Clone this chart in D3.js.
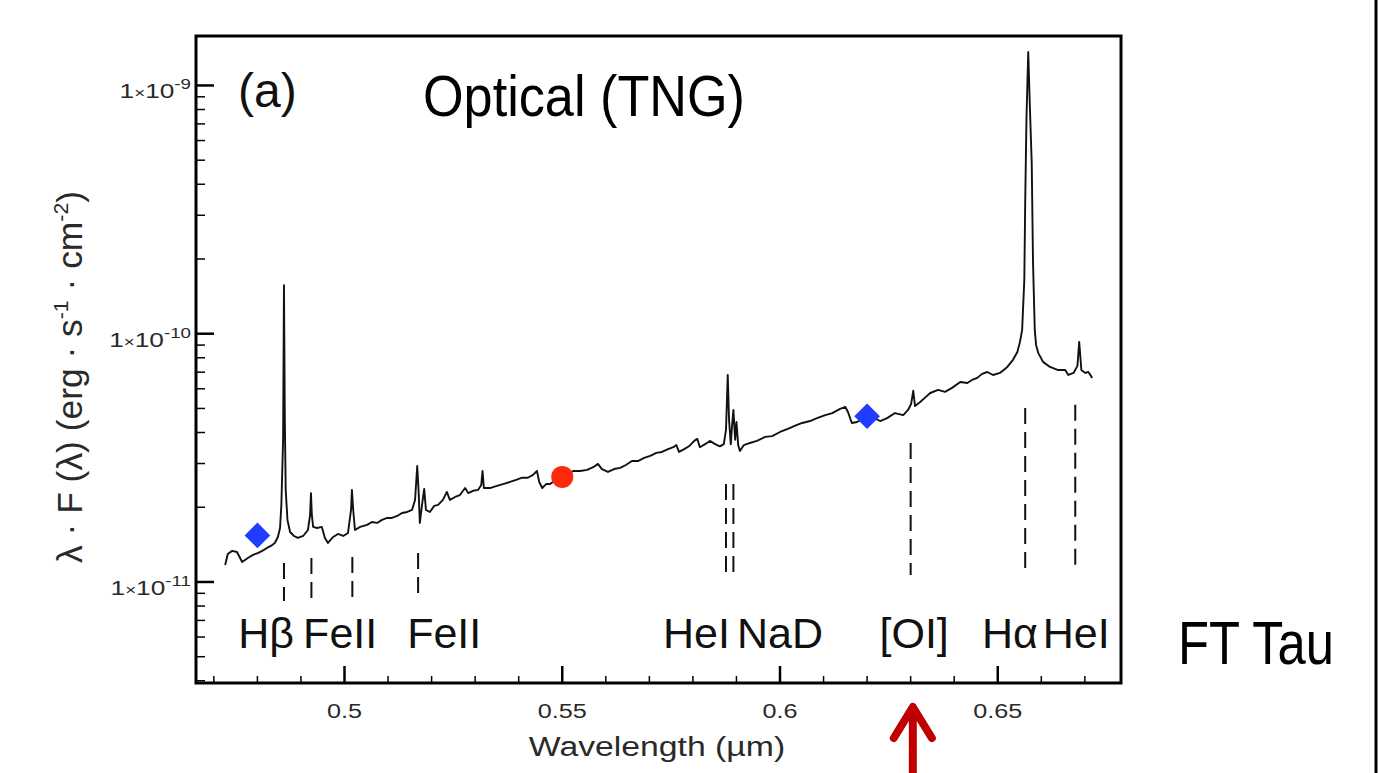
<!DOCTYPE html>
<html>
<head>
<meta charset="utf-8">
<script src="https://cdn.jsdelivr.net/npm/d3@7/dist/d3.min.js"></script>
<style>
  html, body { margin: 0; padding: 0; background: #fff; }
  svg { display: block; }
</style>
</head>
<body>
<svg id="chart" width="1379" height="773"></svg>
<script>
// ---------- DATA ----------
const wavelength = [
  0.4726,0.4732,0.4742,0.4753,0.4765,0.4778,0.4790,0.4802,0.4811,0.4822,0.4831,0.4840,0.4847,0.4852,0.4855,0.4859,0.4861,0.4863,0.4865,0.4869,
  0.4875,0.4884,0.4893,0.4905,0.4916,0.4921,0.4923,0.4925,0.4928,0.4937,0.4948,0.4955,0.4962,0.4974,0.4985,0.4997,0.5008,0.5015,0.5017,0.5020,
  0.5024,0.5036,0.5052,0.5063,0.5075,0.5086,0.5098,0.5109,0.5121,0.5132,0.5144,0.5155,0.5162,0.5167,0.5170,0.5173,0.5178,0.5183,0.5187,0.5196,
  0.5206,0.5215,0.5226,0.5235,0.5242,0.5254,0.5265,0.5277,0.5284,0.5295,0.5307,0.5314,0.5317,0.5320,0.5334,0.5350,0.5364,0.5380,0.5394,0.5408,
  0.5421,0.5433,0.5442,0.5447,0.5454,0.5463,0.5472,0.5486,0.5500,0.5513,0.5525,0.5541,0.5557,0.5571,0.5582,0.5591,0.5605,0.5619,0.5633,0.5646,
  0.5660,0.5674,0.5688,0.5702,0.5716,0.5729,0.5743,0.5755,0.5762,0.5768,0.5780,0.5791,0.5803,0.5810,0.5816,0.5828,0.5839,0.5851,0.5862,0.5871,
  0.5876,0.5880,0.5883,0.5887,0.5890,0.5893,0.5897,0.5900,0.5904,0.5908,0.5917,0.5931,0.5947,0.5966,0.5982,0.6000,0.6018,0.6035,0.6051,0.6069,
  0.6085,0.6104,0.6120,0.6138,0.6150,0.6156,0.6165,0.6177,0.6189,0.6202,0.6216,0.6230,0.6246,0.6264,0.6283,0.6294,0.6301,0.6306,0.6310,0.6322,
  0.6333,0.6345,0.6363,0.6379,0.6395,0.6414,0.6430,0.6441,0.6453,0.6464,0.6476,0.6489,0.6505,0.6522,0.6535,0.6545,0.6551,0.6556,0.6561,0.6563,
  0.6566,0.6570,0.6574,0.6578,0.6581,0.6585,0.6588,0.6593,0.6604,0.6620,0.6639,0.6655,0.6662,0.6674,0.6683,0.6687,0.6692,0.6701,0.6708,0.6717
];
const flux = [
  1.17e-11,1.297e-11,1.334e-11,1.321e-11,1.204e-11,1.249e-11,1.285e-11,1.309e-11,1.334e-11,1.371e-11,1.397e-11,1.436e-11,1.518e-11,1.65e-11,2.044e-11,3.74e-11,15.7e-11,4.49e-11,2.35e-11,1.778e-11,
  1.59e-11,1.532e-11,1.504e-11,1.532e-11,1.619e-11,1.864e-11,2.28e-11,1.864e-11,1.666e-11,1.65e-11,1.666e-11,1.504e-11,1.436e-11,1.518e-11,1.561e-11,1.532e-11,1.576e-11,1.95e-11,2.35e-11,1.95e-11,
  1.619e-11,1.666e-11,1.698e-11,1.745e-11,1.729e-11,1.778e-11,1.811e-11,1.811e-11,1.845e-11,1.897e-11,1.914e-11,1.95e-11,2.14e-11,2.93e-11,2.35e-11,1.729e-11,2.044e-11,2.37e-11,1.95e-11,1.914e-11,
  2.025e-11,2.044e-11,2.14e-11,2.305e-11,2.14e-11,2.2e-11,2.24e-11,2.39e-11,2.28e-11,2.33e-11,2.35e-11,2.46e-11,2.8e-11,2.39e-11,2.39e-11,2.44e-11,2.48e-11,2.529e-11,2.58e-11,2.63e-11,
  2.63e-11,2.7e-11,2.8e-11,2.529e-11,2.39e-11,2.48e-11,2.48e-11,2.58e-11,2.65e-11,2.72e-11,2.8e-11,2.8e-11,2.83e-11,2.9e-11,2.99e-11,2.85e-11,2.775e-11,2.85e-11,2.88e-11,2.96e-11,
  3.07e-11,3.07e-11,3.16e-11,3.22e-11,3.31e-11,3.34e-11,3.43e-11,3.49e-11,3.56e-11,3.34e-11,3.43e-11,3.52e-11,3.7e-11,3.77e-11,3.49e-11,3.59e-11,3.7e-11,3.59e-11,3.52e-11,3.59e-11,
  4.1e-11,6.82e-11,4.49e-11,3.59e-11,4.28e-11,4.93e-11,3.74e-11,4.41e-11,3.56e-11,3.37e-11,3.56e-11,3.63e-11,3.7e-11,3.84e-11,3.87e-11,4.02e-11,4.14e-11,4.26e-11,4.37e-11,4.45e-11,
  4.57e-11,4.7e-11,4.79e-11,4.98e-11,5.07e-11,4.84e-11,4.37e-11,4.41e-11,4.53e-11,4.62e-11,4.57e-11,4.45e-11,4.57e-11,4.79e-11,4.7e-11,4.93e-11,5.21e-11,5.89e-11,5.11e-11,5.31e-11,
  5.53e-11,5.77e-11,5.94e-11,5.83e-11,6.05e-11,6.39e-11,6.33e-11,6.51e-11,6.64e-11,6.89e-11,7.01e-11,6.82e-11,6.95e-11,7.35e-11,7.85e-11,8.44e-11,9.27e-11,10.36e-11,16.5e-11,33.6e-11,
  74.7e-11,136.5e-11,79.7e-11,48.7e-11,19.3e-11,10.36e-11,9.01e-11,8.37e-11,7.7e-11,7.35e-11,7.14e-11,7.14e-11,6.82e-11,6.95e-11,7.42e-11,9.27e-11,7.14e-11,6.95e-11,7.01e-11,6.64e-11
];

// photometric points
const photDiamondLam = [0.48, 0.62];
const photDiamondFlux = [1.54e-11, 4.65e-11];
const photCircleLam = [0.55];
const photCircleFlux = [2.65e-11];

// emission line identifications (dashed markers)
const lineLam  = [0.4861, 0.4924, 0.5018, 0.5169, 0.5876, 0.5893, 0.6300, 0.6563, 0.6678];
const lineTop  = [1.193e-11, 1.249e-11, 1.261e-11, 1.309e-11, 2.48e-11, 2.48e-11, 3.63e-11, 5.02e-11, 5.17e-11];
const lineBot  = [0.838e-11, 0.838e-11, 0.870e-11, 0.878e-11, 1.038e-11, 1.019e-11, 1.067e-11, 1.097e-11, 1.139e-11];

// line labels (text, centre wavelength)
const labelText = ["Hβ", "FeII", "FeII", "HeI", "NaD", "[OI]", "Hα", "HeI"];
const labelLam  = [0.4820, 0.4990, 0.5229, 0.5808, 0.6000, 0.6308, 0.6528, 0.6680];

// axis ticks
const xMajorTicks = [0.5, 0.55, 0.6, 0.65];
const xTickLabels = ["0.5", "0.55", "0.6", "0.65"];
const yMajorTicks = [1e-11, 1e-10, 1e-9];
const yTickExp = ["-11", "-10", "-9"];

// ---------- LAYOUT ----------
const svg = d3.select("#chart");
const L = 196, R = 1121, T = 36, B = 683;
const x = d3.scaleLinear().domain([0.4659, 0.6783]).range([L, R]);
const y = d3.scaleLog().domain([3.918e-12, 1.582e-9]).range([B, T]);

svg.append("rect").attr("width", 1379).attr("height", 773).attr("fill", "#fff");

const SMALL = "'Liberation Sans', Arial, Helvetica, sans-serif";
const txtCol = "#2a2a2a";

svg.append("clipPath").attr("id", "clip").append("rect")
  .attr("x", L).attr("y", T).attr("width", R - L).attr("height", B - T);

// dashed line markers
svg.append("g").selectAll("line").data(lineLam).join("line")
  .attr("x1", d => x(d)).attr("x2", d => x(d))
  .attr("y1", (d, i) => y(lineTop[i])).attr("y2", (d, i) => y(lineBot[i]))
  .attr("stroke", "#111").attr("stroke-width", 2).attr("stroke-dasharray", "16,8");

// spectrum
const pts = wavelength.map((w, i) => [w, flux[i]]);
svg.append("path").datum(pts)
  .attr("clip-path", "url(#clip)")
  .attr("fill", "none").attr("stroke", "#111").attr("stroke-width", 1.9)
  .attr("stroke-linejoin", "round")
  .attr("d", d3.line().x(d => x(d[0])).y(d => y(d[1])));

// photometry
svg.append("g").selectAll("path").data(photDiamondLam).join("path")
  .attr("d", d3.symbol().type(d3.symbolSquare).size(330)())
  .attr("transform", (d, i) => `translate(${x(d)},${y(photDiamondFlux[i])}) rotate(45)`)
  .attr("fill", "#1f3cff");
svg.append("g").selectAll("circle").data(photCircleLam).join("circle")
  .attr("cx", d => x(d)).attr("cy", (d, i) => y(photCircleFlux[i])).attr("r", 11)
  .attr("fill", "#ff2a0a");

// axes ticks (inward)
const xMinor = d3.range(47, 68).map(v => v / 100).filter(v => !xMajorTicks.some(m => Math.abs(m - v) < 1e-6));
const axG = svg.append("g").attr("stroke", "#000");
axG.selectAll(".xmin").data(xMinor).join("line")
  .attr("x1", d => x(d)).attr("x2", d => x(d)).attr("y1", B).attr("y2", B - 7).attr("stroke-width", 1.5);
axG.selectAll(".xmaj").data(xMajorTicks).join("line")
  .attr("x1", d => x(d)).attr("x2", d => x(d)).attr("y1", B).attr("y2", B - 17).attr("stroke-width", 2.5);

const yMinor = [];
[-12, -11, -10].forEach(e => { for (let k = 2; k <= 9; k++) { const v = k * Math.pow(10, e); if (v > 3.918e-12 && v < 1.582e-9) yMinor.push(v); } });
axG.selectAll(".ymin").data(yMinor).join("line")
  .attr("x1", L).attr("x2", L + 9).attr("y1", d => y(d)).attr("y2", d => y(d)).attr("stroke-width", 1.5);
axG.selectAll(".ymaj").data(yMajorTicks).join("line")
  .attr("x1", L).attr("x2", L + 18).attr("y1", d => y(d)).attr("y2", d => y(d)).attr("stroke-width", 2.5);

// frame
svg.append("rect").attr("x", L).attr("y", T).attr("width", R - L).attr("height", B - T)
  .attr("fill", "none").attr("stroke", "#000").attr("stroke-width", 3);

// x tick labels
svg.append("g").selectAll("g").data(xMajorTicks).join("g")
  .attr("transform", d => `translate(${x(d)},718) scale(1.2,1)`)
  .append("text").attr("text-anchor", "middle")
  .attr("font-family", SMALL).attr("font-size", 21).attr("fill", txtCol)
  .text((d, i) => xTickLabels[i]);

// y tick labels
const yl = svg.append("g").selectAll("g").data(yMajorTicks).join("g")
  .attr("transform", d => `translate(191,${y(d) + 13}) scale(1.25,1)`)
  .append("text").attr("text-anchor", "end")
  .attr("font-family", SMALL).attr("font-size", 21).attr("fill", txtCol);
yl.append("tspan").text("1");
yl.append("tspan").attr("font-size", 15).text("×");
yl.append("tspan").text("10");
yl.append("tspan").attr("font-size", 15).attr("dy", -9).text((d, i) => yTickExp[i]);

// x axis label
svg.append("g").attr("transform", "translate(657,756) scale(1.25,1)")
  .append("text").attr("text-anchor", "middle")
  .attr("font-family", SMALL).attr("font-size", 27).attr("fill", txtCol)
  .text("Wavelength (µm)");

// y axis label
const yt = svg.append("g").attr("transform", "translate(82,377) rotate(-90) scale(1,1.15)")
  .append("text").attr("text-anchor", "middle")
  .attr("font-family", SMALL).attr("font-size", 30).attr("fill", txtCol)
  .attr("textLength", 372).attr("lengthAdjust", "spacingAndGlyphs");
yt.append("tspan").text("λ · F (λ) (erg · s");
yt.append("tspan").attr("font-size", 18).attr("dy", -12).text("-1");
yt.append("tspan").attr("dy", 12).text(" · cm");
yt.append("tspan").attr("font-size", 18).attr("dy", -12).text("-2");
yt.append("tspan").attr("dy", 12).text(")");

// panel letter and title
svg.append("text").attr("x", 238).attr("y", 107)
  .attr("font-family", SMALL).attr("font-size", 48).attr("fill", "#111").text("(a)");
svg.append("text").attr("x", 423).attr("y", 116)
  .attr("font-family", SMALL).attr("font-size", 58).attr("fill", "#000")
  .attr("textLength", 322).attr("lengthAdjust", "spacingAndGlyphs").text("Optical (TNG)");

// line labels
svg.append("g").selectAll("text").data(labelText).join("text")
  .attr("x", (d, i) => x(labelLam[i])).attr("y", 648).attr("text-anchor", "middle")
  .attr("font-family", SMALL).attr("font-size", 43).attr("fill", "#111")
  .text(d => d);

// object name
svg.append("text").attr("x", 1178).attr("y", 664)
  .attr("font-family", SMALL).attr("font-size", 62).attr("fill", "#000")
  .attr("textLength", 156).attr("lengthAdjust", "spacingAndGlyphs").text("FT Tau");

// right border line
svg.append("line").attr("x1", 1376).attr("x2", 1376).attr("y1", 0).attr("y2", 773)
  .attr("stroke", "#000").attr("stroke-width", 3);

// red arrow pointing to [OI]
const ax = x(0.6305);
svg.append("path")
  .attr("d", `M${ax},773 L${ax},709 M${ax - 19},738 L${ax},707 L${ax + 19},738`)
  .attr("fill", "none").attr("stroke", "#c00000").attr("stroke-width", 8)
  .attr("stroke-linecap", "round").attr("stroke-linejoin", "round");
</script>
</body>
</html>
